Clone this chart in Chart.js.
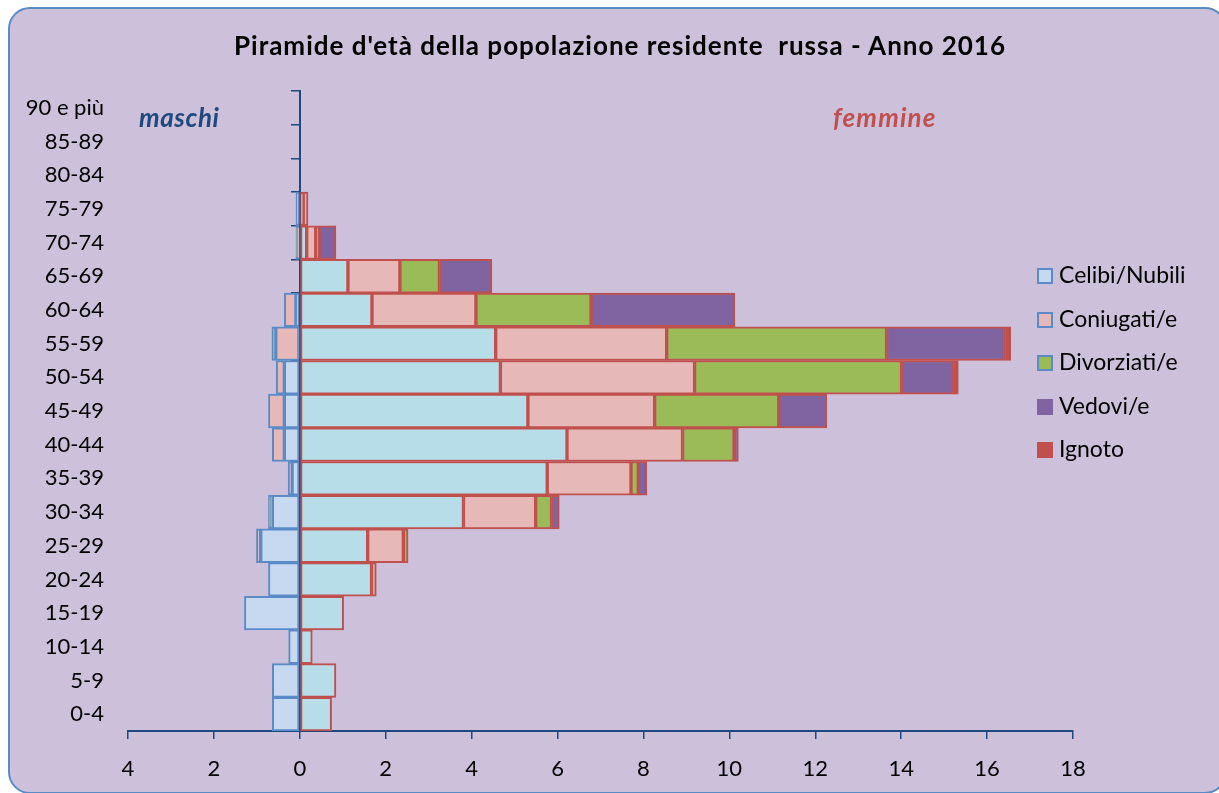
<!DOCTYPE html>
<html>
<head>
<meta charset="utf-8">
<script src="https://cdn.jsdelivr.net/npm/chart.js@4"></script>
<style>
  html, body { margin: 0; overflow: hidden; width: 1219px; height: 793px; }
  body { background: #fff; font-family: Lato, "Open Sans", sans-serif; position: relative; }
  #frame {
    position: absolute; left: 8px; top: 7px; width: 1215px; height: 783px;
    border: 2px solid #5B8BC6; border-radius: 22px; background: #CCC0DA;
  }
  #chart { position: absolute; left: 0; top: 0; }
  .txt { position: absolute; white-space: pre; }
  #title { left: 0; width: 1240px; top: 29px; text-align: center; font-weight: bold; font-size: 26px; letter-spacing: 1px; color: #000; }
  .side { top: 101px; font-weight: bold; font-style: italic; font-size: 26px; letter-spacing: 0.6px; }
  #maschi { left: 139px; color: #1F497D; }
  #femmine { left: 833px; color: #C0504D; letter-spacing: 1.2px; }
  #legend { position: absolute; left: 1037px; top: 260px; font-size: 23px; }
  #legend div { height: 43.5px; display: flex; align-items: flex-start; }
  #legend span.box { width: 12px; height: 12px; border: 2px solid transparent; margin: 8px 6px 0 0; }
</style>
</head>
<body>
<div id="frame"></div>
<canvas id="chart" width="1219" height="793"></canvas>
<div id="title" class="txt">Piramide d'età della popolazione residente  russa - Anno 2016</div>
<div id="maschi" class="txt side">maschi</div>
<div id="femmine" class="txt side">femmine</div>
<div id="legend"></div>
<script>
const ageGroups = ['0-4', '5-9', '10-14', '15-19', '20-24', '25-29', '30-34', '35-39', '40-44',
  '45-49', '50-54', '55-59', '60-64', '65-69', '70-74', '75-79', '80-84', '85-89', '90 e più'];
const statusNames = ['Celibi/Nubili', 'Coniugati/e', 'Divorziati/e', 'Vedovi/e', 'Ignoto'];

// maschi (valori percentuali, disegnati a sinistra)
const maleCelibi     = [0.64, 0.64, 0.26, 1.29, 0.73, 0.91, 0.64, 0.18, 0.36, 0.36, 0.36, 0.02, 0.09, 0, 0.02, 0.02, 0, 0, 0];
const maleConiugati  = [0, 0, 0, 0, 0, 0.10, 0.02, 0.09, 0.28, 0.37, 0.19, 0.54, 0.27, 0, 0.02, 0.07, 0, 0, 0];
const maleDivorziati = [0, 0, 0, 0, 0, 0, 0.07, 0, 0, 0, 0, 0.09, 0, 0, 0.05, 0, 0, 0, 0];
const maleVedovi     = [0, 0, 0, 0, 0, 0, 0, 0, 0, 0, 0, 0, 0, 0, 0, 0, 0, 0, 0];
const maleIgnoto     = [0, 0, 0, 0, 0, 0, 0, 0, 0, 0, 0, 0, 0, 0, 0, 0, 0, 0, 0];

// femmine
const femCelibi     = [0.74, 0.84, 0.29, 1.02, 1.67, 1.58, 3.81, 5.76, 6.22, 5.31, 4.67, 4.56, 1.68, 1.12, 0.16, 0.08, 0, 0, 0];
const femConiugati  = [0, 0, 0, 0, 0.11, 0.83, 1.68, 1.95, 2.69, 2.95, 4.52, 3.98, 2.42, 1.21, 0.21, 0.11, 0, 0, 0];
const femDivorziati = [0, 0, 0, 0, 0, 0.11, 0.37, 0.17, 1.20, 2.89, 4.82, 5.12, 2.68, 0.92, 0.08, 0, 0, 0, 0];
const femVedovi     = [0, 0, 0, 0, 0, 0, 0.18, 0.20, 0.10, 1.12, 1.21, 2.77, 3.35, 1.22, 0.39, 0, 0, 0, 0];
const femIgnoto     = [0, 0, 0, 0, 0, 0, 0, 0, 0, 0, 0.11, 0.12, 0, 0, 0, 0, 0, 0, 0];

const xTicks = { min: -4, max: 18, step: 2 };

const axisColor = '#1F497D';
const maleBorder = '#5B8BC6';
const femBorder = '#C0504D';
const maleFills = ['#C6D9F1', '#E6B9B8', '#9BBB59', '#8064A2', '#C0504D'];
const femFills  = ['#B7DEE8', '#E6B9B8', '#9BBB59', '#8064A2', '#C0504D'];
const legendBorders = [maleBorder, maleBorder, maleBorder, '#8064A2', '#C0504D'];

const maleSeries = [maleCelibi, maleConiugati, maleDivorziati, maleVedovi, maleIgnoto];
const femSeries = [femCelibi, femConiugati, femDivorziati, femVedovi, femIgnoto];

const datasets = [];
maleSeries.forEach((vals, i) => {
  datasets.push({
    label: statusNames[i] + ' (maschi)',
    data: vals.map(v => -v),
    backgroundColor: maleFills[i],
    borderColor: maleBorder,
    borderWidth: 2,
    borderSkipped: false
  });
});
femSeries.forEach((vals, i) => {
  datasets.push({
    label: statusNames[i] + ' (femmine)',
    data: vals,
    backgroundColor: femFills[i],
    borderColor: femBorder,
    borderWidth: 2,
    borderSkipped: false
  });
});

// legenda
const legendEl = document.getElementById('legend');
statusNames.forEach((name, i) => {
  const row = document.createElement('div');
  row.innerHTML = '<span class="box" style="background:' + maleFills[i] + ';border-color:' + legendBorders[i] + '"></span><span>' + name + '</span>';
  legendEl.appendChild(row);
});

new Chart(document.getElementById('chart').getContext('2d'), {
  type: 'bar',
  data: { labels: ageGroups, datasets },
  options: {
    indexAxis: 'y',
    responsive: false,
    animation: false,
    barPercentage: 1,
    categoryPercentage: 1,
    layout: { padding: { left: 8, top: 91, right: 146, bottom: 0 } },
    plugins: { legend: { display: false }, tooltip: { enabled: false }, title: { display: false } },
    scales: {
      x: {
        stacked: true,
        min: xTicks.min,
        max: xTicks.max,
        ticks: {
          stepSize: xTicks.step,
          callback: v => Math.abs(v),
          font: { family: 'Lato', size: 22 },
          color: '#000',
          padding: 17,
          maxRotation: 0
        },
        grid: { drawOnChartArea: false, tickLength: 8, color: axisColor, lineWidth: 1.5 },
        border: { display: true, color: axisColor, width: 2 },
        afterFit: s => { s.height = 62; }
      },
      y: {
        stacked: true,
        reverse: true,
        ticks: { font: { family: 'Lato', size: 22 }, color: '#000', padding: 24 },
        grid: { display: false, drawTicks: false },
        border: { display: false },
        afterFit: s => { s.width = 120; }
      },
      yc: {
        type: 'category',
        position: { x: 0 },
        reverse: true,
        offset: true,
        ticks: { display: false },
        grid: { drawOnChartArea: false, offset: true, tickLength: 8, color: axisColor, lineWidth: 1.5 },
        border: { display: true, color: axisColor, width: 2 }
      }
    }
  }
});
</script>
</body>
</html>
